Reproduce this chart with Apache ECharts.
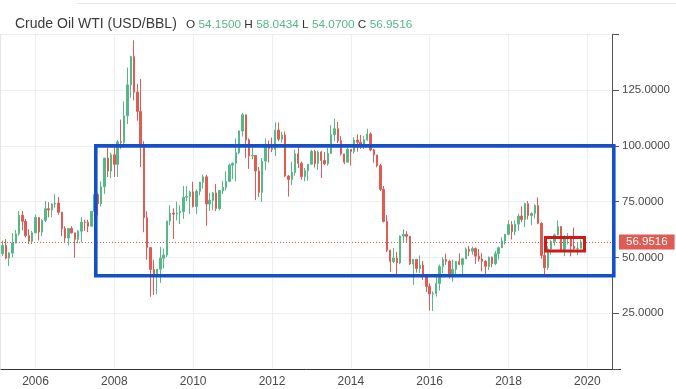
<!DOCTYPE html>
<html><head><meta charset="utf-8">
<script src="https://cdn.jsdelivr.net/npm/echarts@6/dist/echarts.min.js"></script>
<style>html,body{margin:0;padding:0;background:#fff}#c{width:676px;height:389px}</style>
</head><body><div id="c"></div>
<script>
// ---- axis / category setup ----
const firstYear = 2005, firstMonth = 3;   // first monthly bar: Mar 2005
const totalSlots = 186;                   // months shown on the axis (incl. empty right margin)
const yearLabels = ['2006','2008','2010','2012','2014','2016','2018','2020'];
const yTickValues = [25, 50, 75, 100, 125];

// ---- monthly OHLC, Mar 2005 .. Nov 2019 ----
const open = [
 51.75,55.40,49.72,51.97,56.50,60.57,68.94,66.24,59.76,57.32,
 61.04,67.92,61.41,66.63,71.88,71.29,73.93,74.40,70.26,62.91,58.73,62.97,
 61.05,58.14,61.79,65.87,65.71,64.01,70.68,78.21,74.04,81.66,94.53,88.71,
 95.98,91.75,101.84,101.58,113.46,127.35,140.00,124.08,115.46,100.64,67.81,54.43,
 44.60,41.68,44.76,49.66,51.12,66.31,69.89,69.45,69.96,70.61,77.00,77.28,
 79.36,72.89,79.66,83.76,86.15,73.97,75.63,78.95,71.92,79.97,81.43,84.11,
 91.38,92.19,96.97,106.72,113.93,102.70,95.42,95.70,88.81,79.20,93.19,100.36,
 98.83,98.48,107.07,103.02,104.87,86.53,84.96,88.06,96.47,92.19,86.24,88.91,
 91.82,97.49,92.05,97.23,93.46,91.97,96.56,105.03,107.65,102.33,96.38,92.72,
 98.42,97.49,102.59,101.58,99.74,102.71,105.37,98.17,95.96,91.16,80.54,66.15,
 53.27,48.24,49.76,47.60,59.63,60.30,59.47,47.12,49.20,45.09,46.59,41.65,
 37.04,33.62,33.75,38.34,45.92,49.10,48.33,41.60,44.70,48.24,46.86,49.44,
 53.72,52.81,54.01,50.60,49.33,48.32,46.04,50.17,47.23,51.67,54.38,57.40,
 60.42,64.73,61.64,64.94,68.57,67.04,74.15,68.76,69.80,73.25,65.31,50.93,
 45.41,53.79,57.22,60.14,63.91,53.50,58.47,58.58,55.10,54.07,54.15
];
const high = [
 57.60,58.28,52.40,60.95,62.30,70.85,70.80,67.30,62.60,61.90,
 69.20,68.00,67.20,75.35,74.80,74.30,78.40,77.10,70.40,64.00,62.50,64.00,
 61.10,62.30,68.10,66.90,66.90,70.70,78.80,78.80,84.10,94.50,99.30,97.00,
 100.10,102.60,111.80,119.90,135.10,140.40,147.27,127.80,130.00,102.10,70.70,54.60,
 49.00,43.00,54.70,54.00,66.40,73.40,72.00,75.00,73.40,82.00,82.00,80.00,
 83.95,80.50,83.50,87.15,87.00,79.00,79.40,82.90,80.00,84.40,88.60,92.00,
 92.60,103.40,106.90,114.80,114.00,103.40,100.60,95.90,90.50,94.60,103.40,102.40,
 103.70,110.60,110.50,106.30,106.40,86.90,92.90,98.30,100.40,93.00,90.10,91.80,
 98.20,98.20,97.90,97.80,97.30,99.00,109.30,112.20,110.70,104.40,96.50,100.80,
 98.50,103.90,105.20,104.90,104.50,107.70,106.10,98.70,95.90,92.00,82.00,69.00,
 53.50,54.20,52.50,59.90,62.60,61.80,59.70,49.30,49.30,50.90,48.40,42.00,
 38.40,34.80,41.90,46.80,50.20,51.70,49.00,49.00,48.40,51.90,49.90,54.50,
 55.20,54.90,54.50,53.80,52.00,48.90,50.40,50.40,52.90,54.90,59.10,60.50,
 66.70,66.30,66.60,69.60,72.90,74.50,75.30,70.20,73.90,76.90,65.80,54.60,
 55.10,57.80,60.70,66.60,64.00,59.90,60.90,58.80,63.40,56.90,58.0434
];
const low = [
 50.70,49.20,46.20,50.10,56.30,59.80,62.20,59.00,56.10,56.00,
 60.90,57.60,59.50,65.90,68.00,68.00,72.30,69.20,59.50,56.60,55.40,60.70,
 49.90,56.30,56.80,61.90,61.40,63.80,70.10,69.00,72.80,78.50,86.00,85.60,
 86.10,86.10,98.70,100.10,109.80,121.60,120.40,111.30,90.50,61.30,49.00,32.40,
 33.20,33.55,38.60,45.10,50.20,64.50,58.30,66.60,65.00,67.30,75.30,69.50,
 72.40,69.50,77.90,80.90,64.20,70.80,71.10,70.80,71.10,78.40,80.00,83.80,
 85.10,84.10,96.30,104.20,94.60,89.70,94.00,75.70,77.10,74.95,89.20,92.50,
 97.20,95.40,102.10,101.50,86.00,77.30,82.40,86.60,90.10,84.90,84.10,84.40,
 91.70,90.30,89.30,85.60,91.30,91.10,96.50,102.20,101.20,95.70,91.80,92.70,
 91.20,96.50,97.40,98.70,98.60,102.30,97.60,92.50,90.40,79.80,65.70,52.40,
 43.60,47.40,42.00,47.00,56.50,57.00,46.70,37.75,43.20,43.10,39.90,34.50,
 26.20,26.05,32.50,35.20,43.00,46.70,40.60,39.20,42.50,46.60,42.20,49.40,
 50.70,51.20,47.10,48.20,43.80,42.05,44.40,45.60,46.50,49.10,54.20,55.80,
 59.90,58.10,59.95,62.00,65.80,63.60,67.00,64.40,67.50,64.90,49.40,42.40,
 44.40,51.20,55.30,60.00,53.00,50.60,55.90,50.50,52.80,50.99,54.07
];
const close = [
 55.40,49.72,51.97,56.50,60.57,68.94,66.24,59.76,57.32,61.04,
 67.92,61.41,66.63,71.88,71.29,73.93,74.40,70.26,62.91,58.73,62.97,61.05,
 58.14,61.79,65.87,65.71,64.01,70.68,78.21,74.04,81.66,94.53,88.71,95.98,
 91.75,101.84,101.58,113.46,127.35,140.00,124.08,115.46,100.64,67.81,54.43,44.60,
 41.68,44.76,49.66,51.12,66.31,69.89,69.45,69.96,70.61,77.00,77.28,79.36,
 72.89,79.66,83.76,86.15,73.97,75.63,78.95,71.92,79.97,81.43,84.11,91.38,
 92.19,96.97,106.72,113.93,102.70,95.42,95.70,88.81,79.20,93.19,100.36,98.83,
 98.48,107.07,103.02,104.87,86.53,84.96,88.06,96.47,92.19,86.24,88.91,91.82,
 97.49,92.05,97.23,93.46,91.97,96.56,105.03,107.65,102.33,96.38,92.72,98.42,
 97.49,102.59,101.58,99.74,102.71,105.37,98.17,95.96,91.16,80.54,66.15,53.27,
 48.24,49.76,47.60,59.63,60.30,59.47,47.12,49.20,45.09,46.59,41.65,37.04,
 33.62,33.75,38.34,45.92,49.10,48.33,41.60,44.70,48.24,46.86,49.44,53.72,
 52.81,54.01,50.60,49.33,48.32,46.04,50.17,47.23,51.67,54.38,57.40,60.42,
 64.73,61.64,64.94,68.57,67.04,74.15,68.76,69.80,73.25,65.31,50.93,45.41,
 53.79,57.22,60.14,63.91,53.50,58.47,58.58,55.10,54.07,54.18,56.9516
];

// annotation boxes (price levels)
const blueBox = {top: 100, bottom: 41.8};
const redBox = {top: 58.95, bottom: 52.95};

// ---- build ----
const months = [];
for (let i = 0; i < totalSlots; i++) {
  const m0 = firstMonth - 1 + i;
  const y = firstYear + Math.floor(m0 / 12);
  const m = (m0 % 12) + 1;
  months.push(y + '-' + (m < 10 ? '0' + m : m));
}
const yearCats = yearLabels.map(y => y + '-01');
const candles = months.map((_, i) => i < close.length ? [open[i], close[i], low[i], high[i]] : '-');
const n = close.length - 1;
const last = {o: open[n], h: high[n], l: low[n], c: close[n]};

const UP = '#53b987', DOWN = '#df5b53';
const FONT = 'Liberation Sans, Arial, sans-serif';

const chart = echarts.init(document.getElementById('c'), null, {renderer: 'canvas'});
chart.setOption({
  animation: false,
  backgroundColor: '#ffffff',
  title: [
    {left: 10, top: 12, text: 'Crude Oil WTI (USD/BBL)',
     textStyle: {fontSize: 14, fontWeight: 'normal', color: '#3a3a3a', fontFamily: FONT}},
    {left: 181, top: 14,
     text: '{k|O} {v|' + last.o.toFixed(4) + '} {k|H} {v|' + last.h.toFixed(4) + '} {k|L} {v|' + last.l.toFixed(4) + '} {k|C} {v|' + last.c.toFixed(4) + '}',
     textStyle: {fontSize: 11.8, fontWeight: 'normal', color: '#333', fontFamily: FONT,
       rich: {k: {color: '#333', fontSize: 11.8, fontFamily: FONT}, v: {color: UP, fontSize: 11.8, fontFamily: FONT}}}}
  ],
  grid: {left: 1, right: 64, top: 34.3, bottom: 19.9, containLabel: false},
  xAxis: {
    type: 'category', data: months, boundaryGap: true,
    axisLine: {show: true, lineStyle: {color: '#333', width: 1}},
    axisTick: {show: false},
    axisLabel: {interval: (i, v) => yearCats.indexOf(v) >= 0, formatter: v => v.slice(0, 4),
      color: '#4a4a4a', fontSize: 12, margin: 7, fontFamily: FONT},
    splitLine: {show: false}
  },
  yAxis: {
    type: 'value', position: 'right', min: 0, max: 150, interval: 25, scale: false,
    axisLine: {show: true, lineStyle: {color: '#555'}},
    axisTick: {show: true, length: 7, lineStyle: {color: '#555'}},
    axisLabel: {color: '#4a4a4a', fontSize: 11.5, margin: 10, fontFamily: FONT,
      formatter: v => yTickValues.indexOf(v) >= 0 ? v.toFixed(4) : ''},
    splitLine: {show: true, lineStyle: {color: '#edf0f3', width: 1}}
  },
  series: [
    {
      type: 'line', data: [], z: 1, silent: true,
      markLine: {silent: true, symbol: 'none', z: 1, animation: false,
        lineStyle: {color: '#edf0f3', type: 'solid', width: 1},
        label: {show: false}, emphasis: {disabled: true},
        data: yearCats.map(c => ({xAxis: c}))}
    },
    {
      type: 'candlestick', data: candles, barWidth: '58%', z: 2,
      itemStyle: {color: UP, color0: DOWN, borderColor: UP, borderColor0: DOWN, borderWidth: 1},
      markLine: {silent: true, symbol: 'none', z: 6, animation: false,
        lineStyle: {color: DOWN, type: [1, 2], width: 1},
        label: {show: true, position: 'end', distance: 7, formatter: last.c.toFixed(4),
          color: '#fff', backgroundColor: DOWN, padding: [2, 7, 1, 7], fontSize: 11.5, fontFamily: FONT},
        emphasis: {disabled: true},
        data: [{yAxis: last.c}]}
    }
  ]
});

const yPix = v => chart.convertToPixel({yAxisIndex: 0}, v);
const bt = yPix(blueBox.top), bb = yPix(blueBox.bottom);
const rt = yPix(redBox.top), rb = yPix(redBox.bottom);
chart.setOption({
  graphic: [
    {type: 'line', shape: {x1: 77, y1: 3.5, x2: 676, y2: 3.5}, style: {stroke: '#e3e3e3', lineWidth: 1}, silent: true},
    {type: 'line', shape: {x1: 0.5, y1: 34, x2: 0.5, y2: 369}, style: {stroke: '#e6e6e6', lineWidth: 1}, silent: true},
    {type: 'line', shape: {x1: 612, y1: 369.5, x2: 621, y2: 369.5}, style: {stroke: '#333', lineWidth: 1}, silent: true},
    {type: 'rect', z: 100, silent: true, shape: {x: 95.8, y: bt, width: 613.8 - 95.8, height: bb - bt},
     style: {fill: 'none', stroke: '#1650c8', lineWidth: 3.6}},
    {type: 'rect', z: 100, silent: true, shape: {x: 545.5, y: rt, width: 584.5 - 545.5, height: rb - rt},
     style: {fill: 'none', stroke: '#d41818', lineWidth: 3}}
  ]
});
</script></body></html>
